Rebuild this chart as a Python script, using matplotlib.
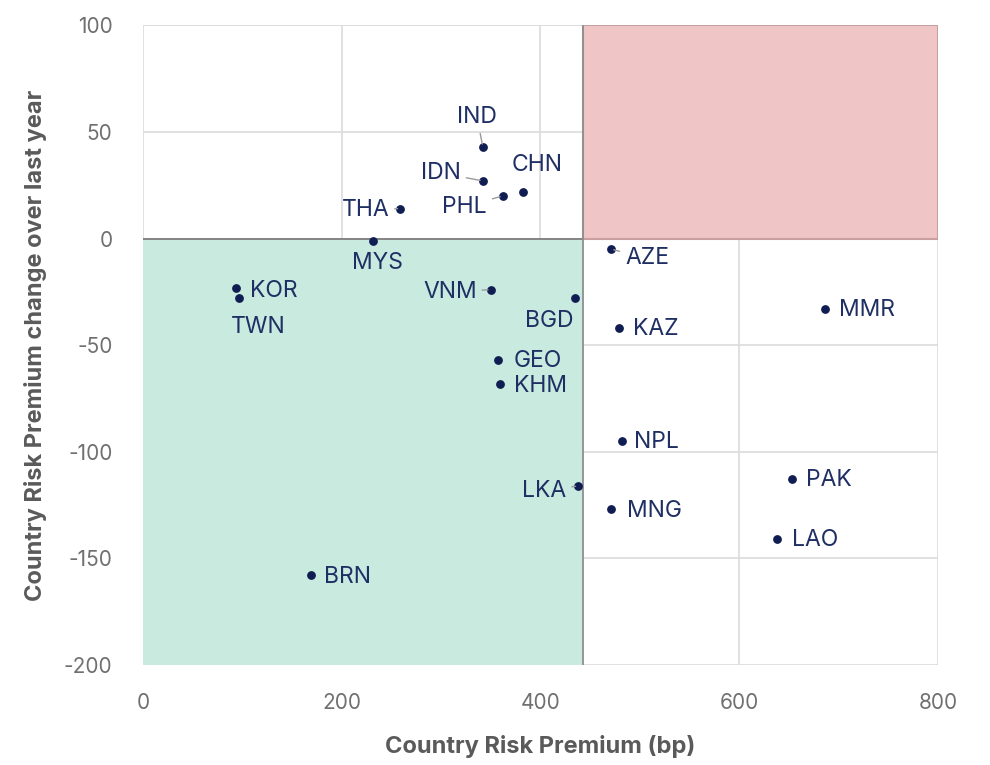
import matplotlib.pyplot as plt
from matplotlib.patches import Rectangle

# Country risk premium (bp) and change over last year
countries = ['IND', 'IDN', 'CHN', 'PHL', 'THA', 'MYS', 'AZE', 'KOR', 'TWN', 'VNM',
             'BGD', 'KAZ', 'MMR', 'GEO', 'KHM', 'NPL', 'PAK', 'LKA', 'MNG', 'LAO', 'BRN']
crp = [342, 342, 382, 362, 259, 231, 471, 94, 97, 350,
       435, 479, 686, 357, 359, 482, 653, 438, 471, 638, 169]
crp_change = [43, 27, 22, 20, 14, -1, -5, -23, -28, -24,
              -28, -42, -33, -57, -68, -95, -113, -116, -127, -141, -158]

# label offsets in pixels (dx, dy) and whether a leader line is drawn
label_offsets = {
    'IND': (-6, 30, True), 'IDN': (-42, 8, True), 'CHN': (15, 27, False),
    'PHL': (-38, -11, True), 'THA': (-35, -1, True), 'MYS': (5, -22, False),
    'AZE': (36, -9, True), 'KOR': (37, -3, False), 'TWN': (19, -29, False),
    'VNM': (-41, -2, True), 'BGD': (-26, -23, False), 'KAZ': (37, -1, False),
    'MMR': (42, -1, False), 'GEO': (40, -1, False), 'KHM': (41, -2, False),
    'NPL': (34, -1, False), 'PAK': (37, -1, False), 'LKA': (-34, -5, True),
    'MNG': (43, -2, False), 'LAO': (38, -1, False), 'BRN': (37, -2, False),
}

THRESHOLD = 443
NAVY = '#0f1d52'
LABEL_COLOR = '#1f2f63'

plt.rcParams['font.family'] = ['Inter', 'DejaVu Sans']
plt.rcParams['axes.unicode_minus'] = False

fig = plt.figure(figsize=(9.9, 7.65), dpi=100)
ax = fig.add_axes([0.1444, 0.1307, 0.8031, 0.8363])

ax.set_xlim(0, 800)
ax.set_ylim(-200, 100)
ax.set_xticks([0, 200, 400, 600, 800])
ax.set_yticks([-200, -150, -100, -50, 0, 50, 100])
ax.grid(True, color='#dcdcdc', linewidth=1.2, zorder=0)
ax.set_axisbelow(True)
for s in ax.spines.values():
    s.set_visible(False)
ax.tick_params(length=0, labelsize=15, labelcolor='#707070', pad=22)
ax.tick_params(axis='x', pad=20)

# quadrant shading
ax.add_patch(Rectangle((0, -200), THRESHOLD, 200, facecolor='#c8eadf',
                       edgecolor='none', zorder=1))
ax.add_patch(Rectangle((THRESHOLD, 0), 800 - THRESHOLD, 100, facecolor='#efc5c5',
                       edgecolor='#c9a0a0', linewidth=1.5, zorder=1))
ax.plot([0, THRESHOLD], [0, 0], color='#7d7d7d', linewidth=1.3, zorder=2)
ax.plot([THRESHOLD, THRESHOLD], [-200, 100], color='#8f8f8f', linewidth=1.3, zorder=2)
ax.plot([0, 800], [100, 100], color='#dcdcdc', linewidth=1.2, zorder=0)

ax.scatter(crp, crp_change, s=28, color=NAVY, zorder=4)

for name, x, y in zip(countries, crp, crp_change):
    dx, dy, leader = label_offsets[name]
    props = None
    if leader:
        props = dict(arrowstyle='-', color='#9a9a9a', linewidth=1.0,
                     shrinkA=2, shrinkB=2)
    ax.annotate(name, (x, y), xytext=(dx, dy), textcoords='offset pixels',
                ha='center', va='center', fontsize=16.5, color=LABEL_COLOR,
                arrowprops=props, zorder=5)

ax.set_xlabel('Country Risk Premium (bp)', fontsize=17, fontweight='bold',
              color='#5a5a5a', labelpad=16)
ax.set_ylabel('Country Risk Premium change over last year', fontsize=17,
              fontweight='bold', color='#5a5a5a', labelpad=12)

fig.savefig('out.png', dpi=100)
